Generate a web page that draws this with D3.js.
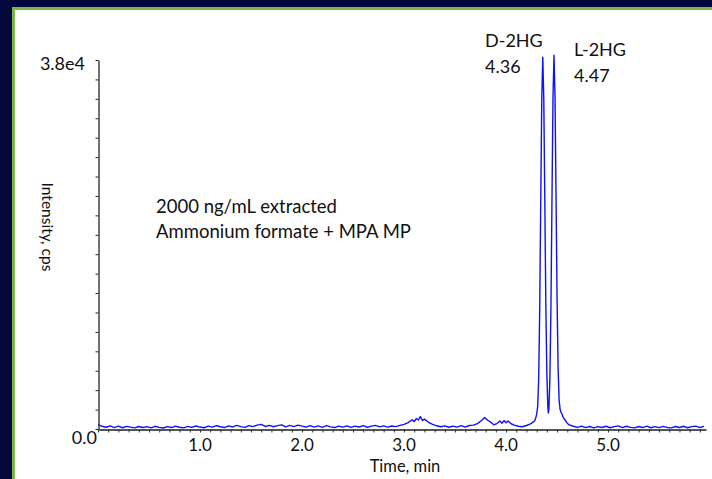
<!DOCTYPE html>
<html>
<head>
<meta charset="utf-8">
<script src="https://cdn.jsdelivr.net/npm/d3@7"></script>
<style>
  html, body { margin: 0; padding: 0; background: #02093a; }
  svg { display: block; }
  text { font-family: Lato, "Open Sans", sans-serif; fill: #111; }
</style>
</head>
<body>
<svg id="chart" width="712" height="479"></svg>
<script>
// Retention time (min) of each sample point in the trace
const traceTime = [
  0.00,0.04,0.08,0.12,0.16,0.20,0.24,0.28,0.32,0.36,0.40,0.44,0.48,0.52,0.56,0.60,0.64,0.68,0.72,0.76,
  0.80,0.84,0.88,0.92,0.96,1.00,1.04,1.08,1.12,1.16,1.20,1.24,1.28,1.32,1.36,1.40,1.44,1.48,1.52,1.56,
  1.60,1.64,1.68,1.72,1.76,1.80,1.84,1.88,1.92,1.96,2.00,2.04,2.08,2.12,2.16,2.20,2.24,2.28,2.32,2.36,
  2.40,2.44,2.48,2.52,2.56,2.60,2.64,2.68,2.72,2.76,2.80,2.84,2.88,2.92,2.96,
  3.00,3.04,3.08,3.10,3.12,3.14,3.16,3.18,3.20,3.24,3.28,3.32,3.36,
  3.40,3.44,3.48,3.52,3.56,3.60,3.64,3.68,
  3.72,3.76,3.79,3.82,3.85,3.88,3.91,3.94,3.96,3.98,4.00,4.02,4.05,4.08,4.12,4.16,4.20,4.24,
  4.26,4.28,4.29,4.30,4.31,4.32,4.33,4.34,4.35,4.36,4.37,4.38,4.39,4.40,4.41,4.415,4.42,4.43,4.44,
  4.45,4.46,4.47,4.48,4.49,4.50,4.51,4.52,4.53,4.54,4.55,4.56,4.58,4.60,4.62,
  4.66,4.70,4.74,4.78,4.82,4.86,4.90,4.94,4.98,5.02,5.06,5.10,5.14,5.18,5.22,5.26,5.30,5.34,5.38,5.42,
  5.46,5.50,5.54,5.58,5.62,5.66,5.70,5.74,5.78,5.82,5.86,5.90,5.94
];

// Intensity (cps) at each time point
const traceIntensity = [
  450,280,180,330,150,290,130,270,190,110,260,160,250,120,280,170,100,250,150,300,
  180,120,270,160,310,200,130,290,190,340,230,150,320,210,370,250,170,350,240,400,
  480,260,380,230,350,430,220,370,250,400,290,200,350,190,320,170,340,220,150,300,
  190,330,160,290,210,340,180,300,370,220,320,190,310,240,380,
  480,650,950,760,1080,930,1280,880,1020,690,470,330,230,
  320,180,300,200,340,190,360,400,
  560,870,1180,900,700,430,560,820,590,870,640,820,540,400,280,230,360,520,
  680,820,1100,1500,2300,5200,12400,23200,33800,38300,33900,23500,12800,5600,2200,1650,2000,5300,12600,
  23400,34000,38500,34200,24000,13500,6400,3000,2000,1700,1500,1200,900,600,420,
  280,160,300,140,260,120,250,150,280,130,250,320,140,280,170,110,260,150,290,130,
  250,140,270,160,120,260,150,280,130,250,290,150,270
];

// Axis ticks and labels
const xMajorTicks = [1, 2, 3, 4, 5];
const xMajorLabels = ["1.0", "2.0", "3.0", "4.0", "5.0"];
const yMax = 38000;
const yTopLabel = "3.8e4";
const yZeroLabel = "0.0";

// Annotations
const peakNames = ["D-2HG", "L-2HG"];
const peakTimes = ["4.36", "4.47"];
const sampleNote = ["2000 ng/mL extracted", "Ammonium formate + MPA MP"];

const svg = d3.select("#chart");
const W = 712, H = 479;

// Slide background: navy with a green rule round the white panel
svg.append("rect").attr("width", W).attr("height", H).attr("fill", "#02093a");
svg.append("rect").attr("x", 12).attr("y", 7).attr("width", W).attr("height", H)
  .attr("fill", "#7ab648");
svg.append("rect").attr("x", 15).attr("y", 10).attr("width", W).attr("height", H)
  .attr("fill", "#ffffff");

const x = d3.scaleLinear().domain([0, 5.96]).range([98, 706]);
const y = d3.scaleLinear().domain([0, yMax]).range([429, 60]);

// Y axis: line with a minor tick every 2000 cps
const yAxis = d3.axisLeft(y)
  .tickValues(d3.range(0, yMax + 1, 2000))
  .tickSize(3)
  .tickSizeOuter(0)
  .tickFormat("");
const gy = svg.append("g").attr("transform", "translate(98.5,0)").call(yAxis);
gy.select(".domain").attr("stroke", "#111").attr("stroke-width", 1.2);
gy.selectAll(".tick line").attr("stroke", "#222");

// X axis: minor tick every 0.1 min
const xAxis = d3.axisBottom(x)
  .tickValues(d3.range(0, 5.95, 0.1))
  .tickSize(3)
  .tickSizeOuter(0)
  .tickFormat("");
const gx = svg.append("g").attr("transform", "translate(0,429.5)").call(xAxis);
gx.select(".domain").attr("stroke", "#555").attr("stroke-width", 1.8);
gx.selectAll(".tick line").attr("stroke", "#333");

// X tick labels
svg.append("g").selectAll("text")
  .data(xMajorTicks)
  .join("text")
  .attr("x", d => x(d))
  .attr("y", 451)
  .attr("text-anchor", "middle")
  .attr("font-size", 17)
  .text((d, i) => xMajorLabels[i]);

// Y end labels
svg.append("text").attr("x", 85).attr("y", 70).attr("text-anchor", "end")
  .attr("font-size", 18).text(yTopLabel);
svg.append("text").attr("x", 97).attr("y", 444).attr("text-anchor", "end")
  .attr("font-size", 18).text(yZeroLabel);

// Axis titles
svg.append("text").attr("x", 405).attr("y", 472).attr("text-anchor", "middle")
  .attr("font-size", 16.5).text("Time, min");
svg.append("text")
  .attr("transform", "translate(42,227) rotate(90)")
  .attr("text-anchor", "middle")
  .attr("font-size", 15.5)
  .text("Intensity, cps");

// Chromatogram trace
const trace = traceTime.map((t, i) => [t, traceIntensity[i]]);
const line = d3.line().x(d => x(d[0])).y(d => y(d[1]));
svg.append("path")
  .datum(trace)
  .attr("d", line)
  .attr("fill", "none")
  .attr("stroke", "#1010ff")
  .attr("stroke-width", 1.4)
  .attr("stroke-linejoin", "round");

// Peak labels
svg.append("text").attr("x", 485).attr("y", 47).attr("font-size", 18).text(peakNames[0]);
svg.append("text").attr("x", 485).attr("y", 73).attr("font-size", 18).text(peakTimes[0]);
svg.append("text").attr("x", 574).attr("y", 56).attr("font-size", 18).text(peakNames[1]);
svg.append("text").attr("x", 574).attr("y", 82).attr("font-size", 18).text(peakTimes[1]);

// Sample conditions note
svg.append("text").attr("x", 156).attr("y", 213).attr("font-size", 18.5).text(sampleNote[0]);
svg.append("text").attr("x", 156).attr("y", 238).attr("font-size", 18.5).text(sampleNote[1]);
</script>
</body>
</html>
